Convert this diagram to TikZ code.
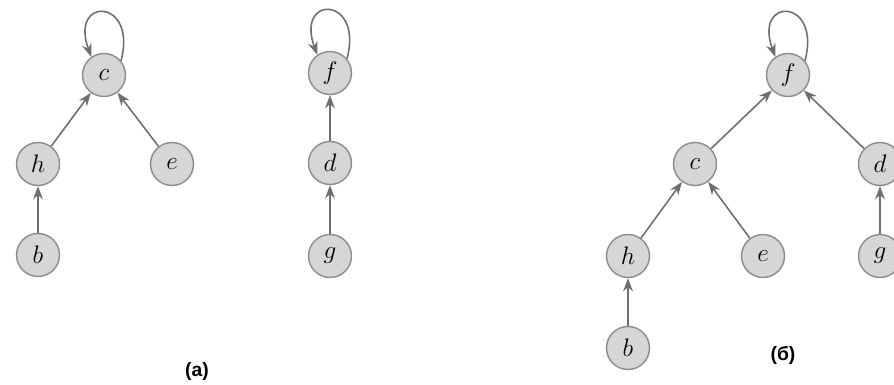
\documentclass[tikz,border=0pt]{standalone}
\usepackage{fontspec}
\newfontfamily\labfont{Liberation Sans}
\usetikzlibrary{arrows.meta}
\definecolor{nodefill}{HTML}{D6D6D6}
\definecolor{nodeline}{HTML}{8C8C8C}
\definecolor{edgecol}{HTML}{6E6E6E}
\tikzset{
  vtx/.style={circle, draw=nodeline, fill=nodefill, line width=0.8pt, minimum size=0.86cm, inner sep=0pt, font=\fontsize{14}{16}\selectfont},
  arr/.style={draw=edgecol, line width=0.9pt, -{Stealth[length=7.5pt,width=5.6pt]}},
  selfloop/.style={arr},
  lab/.style={font=\labfont\bfseries\fontsize{11}{13}\selectfont}
}
\begin{document}
\begin{tikzpicture}[x=0.02cm, y=-0.02cm]
\useasboundingbox (0,0) rectangle (894,385);
% (a) first tree
\node[vtx] (ac) at (104,75) {$c$};
\node[vtx] (ah) at (38,164) {$h$};
\node[vtx] (ae) at (172,164) {$e$};
\node[vtx] (ab) at (38,255) {$b$};
\draw[arr] (ah) -- (ac);
\draw[arr] (ae) -- (ac);
\draw[arr] (ab) -- (ah);
\draw[selfloop] (ac.40) .. controls +(75:1.3cm) and +(110:1.3cm) .. (ac.125);
% (a) second tree
\node[vtx] (af) at (330,73) {$f$};
\node[vtx] (ad) at (330,163) {$d$};
\node[vtx] (ag) at (330,256) {$g$};
\draw[arr] (ad) -- (af);
\draw[arr] (ag) -- (ad);
\draw[selfloop] (af.40) .. controls +(75:1.3cm) and +(110:1.3cm) .. (af.125);
\node[lab] (la) at (197,372) {(a)};
% (b)
\node[vtx] (bf) at (788,75) {$f$};
\node[vtx] (bc) at (695,164) {$c$};
\node[vtx] (bd) at (880,164) {$d$};
\node[vtx] (bh) at (628,256) {$h$};
\node[vtx] (be) at (763,256) {$e$};
\node[vtx] (bg) at (880,256) {$g$};
\node[vtx] (bb) at (628,348) {$b$};
\draw[arr] (bc) -- (bf);
\draw[arr] (bd) -- (bf);
\draw[arr] (bh) -- (bc);
\draw[arr] (be) -- (bc);
\draw[arr] (bg) -- (bd);
\draw[arr] (bb) -- (bh);
\draw[selfloop] (bf.40) .. controls +(75:1.3cm) and +(110:1.3cm) .. (bf.125);
\node[lab] (lb) at (783,355) {(б)};
\end{tikzpicture}
\end{document}
